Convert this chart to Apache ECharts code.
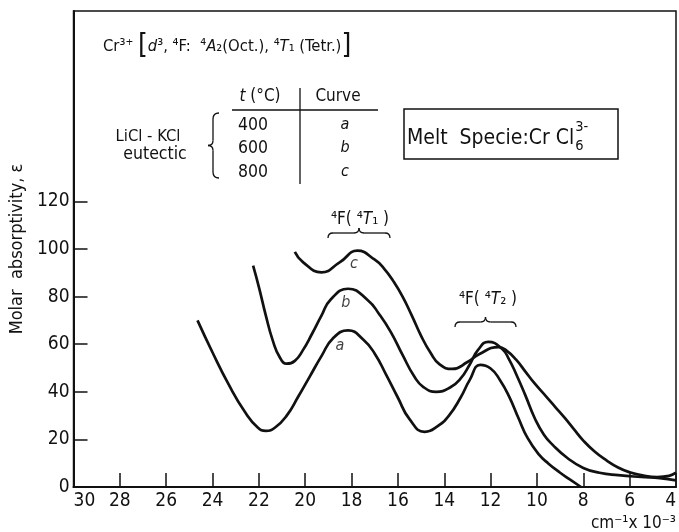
<!DOCTYPE html>
<html>
<head>
<meta charset="utf-8">
<script src="https://cdn.jsdelivr.net/npm/echarts@6/dist/echarts.min.js"></script>
<style>
html, body { margin: 0; padding: 0; background: #fff; }
#main { width: 679px; height: 532px; }
</style>
</head>
<body>
<div id="main"></div>
<script>
// wavenumber (cm-1 x 10^-3) , molar absorptivity
var curveA = [[24.65,70],[24.0,56.5],[23.3,43],[22.6,31.5],[22.05,25],[21.7,23.6],[21.3,25],[20.8,30],
  [20.3,38],[19.8,46.5],[19.3,55],[18.8,62.5],[18.15,65.8],[17.5,62],[17.0,56],[16.5,47],
  [16.0,37.5],[15.5,28.5],[14.85,23.2],[14.3,25.5],[13.8,30],[13.3,37.5],[12.9,45],[12.45,51.3],
  [12.0,49.8],[11.6,45],[11.2,38],[10.8,29],[10.4,20.5],[9.9,13.5],[9.5,9.8],[9.0,6],[8.6,3.3],[8.1,0]];
var curveB = [[22.25,93],[22.0,84],[21.7,72],[21.4,61.5],[21.1,54.5],[20.8,51.8],[20.45,53],[20.1,57.5],
  [19.7,64.5],[19.3,72],[18.9,78.8],[18.15,83.3],[17.3,78.5],[16.8,72.5],[16.3,65],
  [15.8,55.5],[15.3,46.5],[14.9,42],[14.35,40],[13.75,41.8],[13.3,45.5],[12.9,51.5],[12.55,57.5],
  [12.1,61],[11.5,58],[11.2,53.5],[10.9,47.5],[10.5,38.5],[10.1,29],[9.7,22],[9.3,17.5],
  [8.7,12.3],[8.0,8],[7.3,6],[6.5,5],[5.5,4.2],[4.7,3.7],[4.0,2.8]];
var curveC = [[20.45,98.8],[20.1,94.5],[19.3,90.2],[18.5,94.5],
  [17.75,99.3],[17.0,95.5],[16.6,91.8],[16.2,86.5],[15.8,80],[15.4,72],[15.0,63.5],[14.6,56.5],
  [14.2,51.5],[13.65,49.6],[13.0,52.5],[12.5,55.8],[11.65,58.8],[11.3,57.2],
  [10.9,53.5],[10.5,48.5],[10.1,43.5],[9.6,38],[9.2,33.5],[8.8,29],[8.4,24.2],[8.0,19.5],[7.5,14.8],
  [7.0,11.2],[6.5,8.2],[6.0,6.2],[5.5,5],[4.8,4.2],[4.3,4.7],[4.0,6]];
var curveNames = ['a', 'b', 'c'];
var curveLabelPos = [[18.5,59.5],[18.25,77.5],[17.9,93.7]];
var yLabelValues = [0,20,40,60,80,100,120];

var FONT = '"DejaVu Sans Condensed", "DejaVu Sans", sans-serif';
var chart = echarts.init(document.getElementById('main'));

function line(data) {
  return {
    type: 'line', data: data, smooth: 0.5, showSymbol: false, silent: true,
    lineStyle: { color: '#111', width: 2.7 }
  };
}

var stroke = { fill: null, stroke: '#111', lineWidth: 1.3 };
function seg(x1, y1, x2, y2) {
  return { type: 'line', shape: { x1: x1, y1: y1, x2: x2, y2: y2 }, style: stroke };
}
function quad(x1, y1, cx, cy, x2, y2) {
  return { type: 'bezierCurve', shape: { x1: x1, y1: y1, cpx1: cx, cpy1: cy, x2: x2, y2: y2 }, style: stroke };
}
// horizontal curly brace, cusp pointing up
function brace(x1, x2, y) {
  var m = (x1 + x2) / 2;
  return [
    quad(x1, y + 5, x1, y, x1 + 5, y), seg(x1 + 5, y, m - 5, y),
    quad(m - 5, y, m, y, m, y - 5), quad(m, y - 5, m, y, m + 5, y),
    seg(m + 5, y, x2 - 5, y), quad(x2 - 5, y, x2, y, x2, y + 5)
  ];
}
// vertical curly brace, cusp pointing left
function vbrace(x, y1, y2) {
  var m = (y1 + y2) / 2;
  return [
    quad(x + 6, y1, x, y1, x, y1 + 6), seg(x, y1 + 6, x, m - 5),
    quad(x, m - 5, x, m, x - 5, m), quad(x - 5, m, x, m, x, m + 5),
    seg(x, m + 5, x, y2 - 6), quad(x, y2 - 6, x, y2, x + 6, y2)
  ];
}

function T(x, y, s, extra) {
  var st = { text: s, fill: '#111', fontFamily: FONT, fontSize: 16, verticalAlign: 'middle' };
  for (var k in extra) st[k] = extra[k];
  return { type: 'text', x: x, y: y, style: st };
}
function itRich(size) {
  return { it: { fontStyle: 'italic', fontSize: size, fontFamily: FONT, fill: '#111' } };
}

// width of the box text, so the stacked 6 / 3- sit right after "Cl"
var meltText = 'Melt  Specie:Cr Cl';
var ctx = document.createElement('canvas').getContext('2d');
ctx.font = '21px ' + FONT;
var meltEnd = 407 + ctx.measureText(meltText).width;

var graphics = [
  T(103, 47, 'Cr³⁺ {br|[}{it|d}³, ⁴F:  ⁴{it|A}₂(Oct.), ⁴{it|T}₁ (Tetr.){br|]}', {
    fontSize: 16.5,
    rich: { it: { fontStyle: 'italic', fontSize: 16.5, fontFamily: FONT, fill: '#111' }, br: { fontSize: 28, fontFamily: FONT, fill: '#111' } }
  }),
  T(260, 97, '{it|t} (°C)', { align: 'center', fontSize: 17, rich: itRich(17) }),
  T(338, 97, 'Curve', { align: 'center', fontSize: 17 }),
  seg(232, 110, 378, 110),
  seg(300, 88, 300, 184),
  T(253, 125, '400', { align: 'center', fontSize: 17.5 }),
  T(253, 148, '600', { align: 'center', fontSize: 17.5 }),
  T(253, 172, '800', { align: 'center', fontSize: 17.5 }),
  T(345, 125, 'a', { align: 'center', fontStyle: 'italic' }),
  T(345, 148, 'b', { align: 'center', fontStyle: 'italic' }),
  T(345, 172, 'c', { align: 'center', fontStyle: 'italic' }),
  T(148, 137, 'LiCl - KCl', { align: 'center', fontSize: 16.5 }),
  T(155, 154, 'eutectic', { align: 'center', fontSize: 17.5 }),
  { type: 'rect', shape: { x: 404, y: 109, width: 214, height: 50 }, style: { fill: null, stroke: '#111', lineWidth: 1.5 } },
  T(407, 139, meltText, { fontSize: 21 }),
  T(meltEnd + 1, 127, '3-', { fontSize: 14.5 }),
  T(meltEnd + 1, 146, '6', { fontSize: 14.5 }),
  T(360, 220, '⁴F( ⁴{it|T}₁ )', { align: 'center', fontSize: 17, rich: itRich(17) }),
  T(488, 300, '⁴F( ⁴{it|T}₂ )', { align: 'center', fontSize: 17, rich: itRich(17) }),
  T(676, 524, 'cm⁻¹x 10⁻³', { align: 'right', fontSize: 17 })
].concat(vbrace(213, 113, 178), brace(328, 390, 233), brace(455, 516, 322));

var option = {
  animation: false,
  grid: { left: 66, right: 2, top: 11, bottom: 45, show: true, borderColor: '#111', borderWidth: 1.5 },
  xAxis: {
    type: 'value', min: 4, max: 30, interval: 2, inverse: true,
    axisLine: { lineStyle: { color: '#111', width: 2 } },
    axisTick: { inside: true, length: 14, lineStyle: { color: '#111', width: 1.5 } },
    axisLabel: { color: '#111', fontFamily: FONT, fontSize: 19, margin: 5, alignMinLabel: 'right', alignMaxLabel: 'left' },
    splitLine: { show: false }
  },
  yAxis: {
    type: 'value', min: 0, max: 200, interval: 20,
    name: 'Molar  absorptivity, ε', nameLocation: 'middle', nameGap: 44,
    nameTextStyle: { color: '#111', fontFamily: FONT, fontSize: 18 },
    axisLine: { lineStyle: { color: '#111', width: 2 } },
    axisTick: { inside: true, length: 14, customValues: yLabelValues, lineStyle: { color: '#111', width: 1.5 } },
    axisLabel: { color: '#111', fontFamily: FONT, fontSize: 19, margin: 4, customValues: yLabelValues },
    splitLine: { show: false }
  },
  series: [
    line(curveA), line(curveB), line(curveC),
    {
      type: 'scatter', symbolSize: 0, silent: true,
      data: curveNames.map(function (n, i) { return { name: n, value: curveLabelPos[i] }; }),
      label: { show: true, position: 'inside', formatter: '{b}', color: '#111', fontFamily: FONT, fontStyle: 'italic', fontSize: 16 }
    }
  ],
  graphic: graphics
};
chart.setOption(option);
</script>
</body>
</html>
